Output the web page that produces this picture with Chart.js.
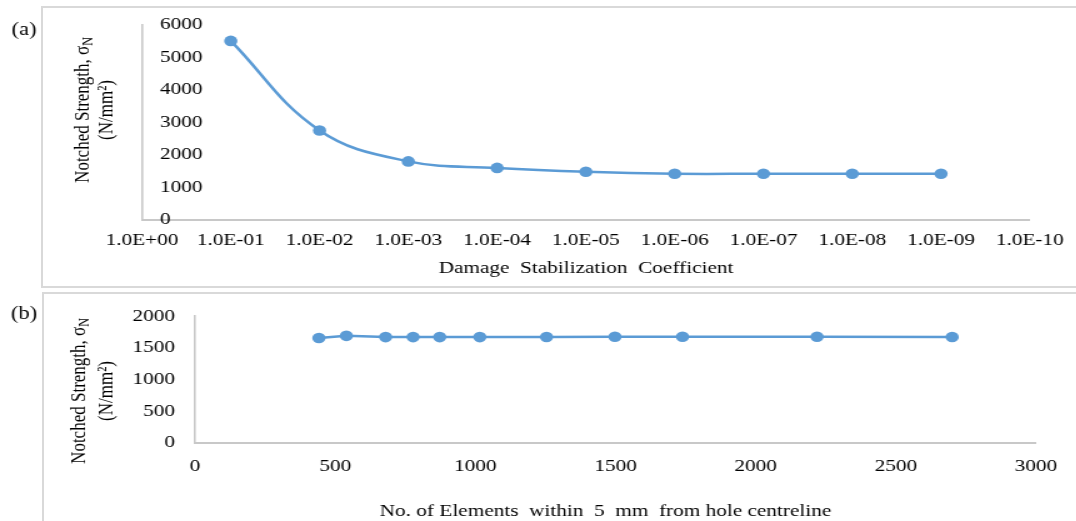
<!DOCTYPE html>
<html><head><meta charset="utf-8">
<script src="https://cdn.jsdelivr.net/npm/chart.js@4.4.1/dist/chart.umd.min.js"></script>
<style>
html,body{margin:0;padding:0;background:#fff;width:1076px;height:521px;overflow:hidden;position:relative;}
.frame{position:absolute;border:2px solid #d9d9d9;box-sizing:border-box;}
.wrap{position:absolute;left:0;transform-origin:0 0;transform:scaleX(1.25);}
canvas{display:block;}
</style></head><body>
<div class="frame" style="left:41px;top:6px;width:1100px;height:282px;"></div>
<div class="frame" style="left:42px;top:292px;width:1100px;height:300px;"></div>
<div class="wrap" style="top:0;width:861px;height:290px;"><canvas id="ca" width="861" height="290"></canvas></div>
<div class="wrap" style="top:290px;width:861px;height:231px;"><canvas id="cb" width="861" height="231"></canvas></div>
<script>
// ---- Data (a) ----
const coeffLabels = ['1.0E+00','1.0E-01','1.0E-02','1.0E-03','1.0E-04','1.0E-05','1.0E-06','1.0E-07','1.0E-08','1.0E-09','1.0E-10'];
const notchedStrengthA = [null, 5500, 2750, 1800, 1600, 1480, 1420, 1420, 1420, 1420, null];
// ---- Data (b) ----
const elementCounts = [442, 540, 680, 778, 873, 1016, 1254, 1498, 1739, 2219, 2701];
const notchedStrengthB = [1655, 1690, 1670, 1670, 1670, 1670, 1672, 1675, 1675, 1675, 1672];
const yTicksA = [0, 1000, 2000, 3000, 4000, 5000, 6000];
const yTicksB = [0, 500, 1000, 1500, 2000];
const xTicksB = [0, 500, 1000, 1500, 2000, 2500, 3000];

const BLUE = '#5B9BD5';
const AXIS = '#c8c8c8';
const FONT = 'Liberation Serif';
const tickFont = {family: FONT, size: 17};
const plain = v => String(v);

function titlesPlugin(o) {
  return {
    id: 'titles',
    afterDraw(chart) {
      const ctx = chart.ctx;
      ctx.save();
      ctx.fillStyle = '#000';
      ctx.font = '18px "' + FONT + '"';
      ctx.textAlign = 'center';
      ctx.textBaseline = 'middle';
      ctx.fillText(o.panel, o.panelX, o.panelY);
      ctx.font = '17px "' + FONT + '"';
      ctx.fillText(o.xTitle, o.xTitleX, o.xTitleY);
      ctx.save();
      ctx.translate(o.yTitleX1, o.yTitleCY);
      ctx.rotate(-Math.PI / 2);
      const main = 'Notched Strength, σ';
      ctx.font = '17px "' + FONT + '"';
      const w1 = ctx.measureText(main).width;
      ctx.font = '12px "' + FONT + '"';
      const w2 = ctx.measureText('N').width;
      const start = -(w1 + w2) / 2;
      ctx.textAlign = 'left';
      ctx.font = '17px "' + FONT + '"';
      ctx.fillText(main, start, 0);
      ctx.font = '12px "' + FONT + '"';
      ctx.fillText('N', start + w1, 4);
      ctx.restore();
      ctx.save();
      ctx.translate(o.yTitleX2, o.yTitleCY);
      ctx.rotate(-Math.PI / 2);
      ctx.font = '17px "' + FONT + '"';
      ctx.textAlign = 'center';
      ctx.fillText('(N/mm²)', 0, 0);
      ctx.restore();
      ctx.restore();
    }
  };
}

const commonDataset = {
  borderColor: BLUE,
  backgroundColor: BLUE,
  borderWidth: 2.5,
  pointRadius: 5.3,
  pointHoverRadius: 5.3,
  pointBorderWidth: 0,
  pointBackgroundColor: BLUE,
  fill: false,
  clip: false
};

// ---- Chart (a) ----
new Chart(document.getElementById('ca'), {
  type: 'line',
  data: {
    labels: coeffLabels,
    datasets: [Object.assign({}, commonDataset, {data: notchedStrengthA, tension: 0.4})]
  },
  options: {
    responsive: false,
    animation: false,
    events: [],
    layout: {padding: {left: 113.6, right: 33, top: 22, bottom: 0}},
    plugins: {legend: {display: false}, tooltip: {enabled: false}, title: {display: false}},
    scales: {
      x: {
        type: 'category',
        offset: false,
        grid: {display: false, drawTicks: false},
        border: {display: true, color: AXIS, width: 2},
        ticks: {color: '#000', font: tickFont, padding: 10, autoSkip: false, maxRotation: 0},
        afterFit(s) { s.height = 70; }
      },
      y: {
        min: 0, max: 6000,
        afterBuildTicks(s) { s.ticks = yTicksA.map(v => ({value: v})); },
        grid: {display: false, drawTicks: false},
        border: {display: true, color: AXIS, width: 1.6},
        ticks: {color: '#000', font: tickFont, mirror: true, padding: 14.4, callback: plain},
        afterFit(s) { s.width = 0; }
      }
    }
  },
  plugins: [titlesPlugin({
    panel: '(a)', panelX: 19.2, panelY: 30,
    xTitle: 'Damage  Stabilization  Coefficient', xTitleX: 468.8, xTitleY: 269,
    yTitleX1: 66.4, yTitleX2: 85.6, yTitleCY: 110
  })]
});

// ---- Chart (b) ----
new Chart(document.getElementById('cb'), {
  type: 'line',
  data: {
    datasets: [Object.assign({}, commonDataset, {
      data: elementCounts.map((x, i) => ({x: x, y: notchedStrengthB[i]})),
      tension: 0
    })]
  },
  options: {
    responsive: false,
    animation: false,
    events: [],
    layout: {padding: {left: 0, right: 32.2, top: 25, bottom: 0}},
    plugins: {legend: {display: false}, tooltip: {enabled: false}, title: {display: false}},
    scales: {
      x: {
        type: 'linear',
        min: 0, max: 3000,
        afterBuildTicks(s) { s.ticks = xTicksB.map(v => ({value: v})); },
        grid: {display: false, drawTicks: false},
        border: {display: true, color: AXIS, width: 2},
        ticks: {color: '#000', font: tickFont, padding: 13, autoSkip: false, maxRotation: 0, callback: plain},
        afterFit(s) { s.height = 78; }
      },
      y: {
        min: 0, max: 2000,
        afterBuildTicks(s) { s.ticks = yTicksB.map(v => ({value: v})); },
        grid: {display: false, drawTicks: false},
        border: {display: true, color: AXIS, width: 1.6},
        ticks: {color: '#000', font: tickFont, padding: 16, callback: plain},
        afterFit(s) { s.width = 156; }
      }
    }
  },
  plugins: [titlesPlugin({
    panel: '(b)', panelX: 19.2, panelY: 24,
    xTitle: 'No. of Elements  within  5  mm  from hole centreline', xTitleX: 484.4, xTitleY: 222,
    yTitleX1: 64, yTitleX2: 85.6, yTitleCY: 101
  })]
});
</script>
</body></html>
